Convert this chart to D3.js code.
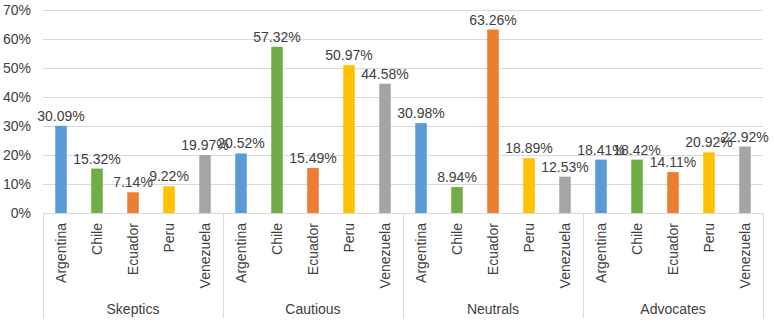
<!DOCTYPE html>
<html>
<head>
<meta charset="utf-8">
<script src="https://cdn.jsdelivr.net/npm/d3@7"></script>
<style>
  body { margin: 0; background: #fff; }
  text { font-family: "Liberation Sans", Arial, sans-serif; fill: #404040; }
</style>
</head>
<body>
<div id="chart"></div>
<script>
// data
const groups = ["Skeptics", "Cautious", "Neutrals", "Advocates"];
const countries = ["Argentina", "Chile", "Ecuador", "Peru", "Venezuela"];
const skeptics = [30.09, 15.32, 7.14, 9.22, 19.97];
const cautious = [20.52, 57.32, 15.49, 50.97, 44.58];
const neutrals = [30.98, 8.94, 63.26, 18.89, 12.53];
const advocates = [18.41, 18.42, 14.11, 20.92, 22.92];
const yTicks = [0, 10, 20, 30, 40, 50, 60, 70];

const colors = ["#5b9bd5", "#70ad47", "#ed7d31", "#ffc000", "#a5a5a5"];

const seriesByGroup = [skeptics, cautious, neutrals, advocates];
const rows = [];
groups.forEach((g, gi) => {
  countries.forEach((c, ci) => {
    rows.push({group: g, country: c, key: g + "|" + c, value: seriesByGroup[gi][ci], ci: ci});
  });
});

const W = 774, H = 322;
const margin = {top: 10, right: 11, bottom: 109, left: 43};
const width = W - margin.left - margin.right,
      height = H - margin.top - margin.bottom;

const svg = d3.select("#chart").append("svg")
    .attr("width", W).attr("height", H)
  .append("g")
    .attr("transform", `translate(${margin.left},${margin.top})`);

const x = d3.scaleBand()
  .domain(rows.map(d => d.key))
  .range([0, width])
  .paddingInner(0.68).paddingOuter(0.34);

const xGroup = d3.scaleBand()
  .domain(groups)
  .range([0, width]);

const y = d3.scaleLinear().domain([0, 70]).range([height, 0]);

// gridlines
svg.append("g").selectAll("line")
  .data(yTicks)
  .join("line")
    .attr("x1", 0).attr("x2", width)
    .attr("y1", d => Math.round(y(d)) + 0.5).attr("y2", d => Math.round(y(d)) + 0.5)
    .attr("stroke", "#d9d9d9").attr("stroke-width", 1);

// y axis labels
svg.append("g").selectAll("text")
  .data(yTicks)
  .join("text")
    .attr("x", -12).attr("y", d => y(d))
    .attr("dy", "0.35em")
    .attr("text-anchor", "end")
    .style("font-size", "14px")
    .text(d => d + "%");

// bars
svg.append("g").selectAll("rect")
  .data(rows)
  .join("rect")
    .attr("x", d => x(d.key))
    .attr("y", d => y(d.value))
    .attr("width", x.bandwidth())
    .attr("height", d => height - y(d.value))
    .attr("fill", d => colors[d.ci]);

// value labels
svg.append("g").selectAll("text")
  .data(rows)
  .join("text")
    .attr("x", d => x(d.key) + x.bandwidth() / 2)
    .attr("y", d => y(d.value) - 5)
    .attr("text-anchor", "middle")
    .style("font-size", "14px")
    .text(d => d.value.toFixed(2) + "%");

// category separators
const seps = groups.map(g => xGroup(g)).concat([width]);
svg.append("g").selectAll("line")
  .data(seps)
  .join("line")
    .attr("x1", d => Math.round(d) + 0.5).attr("x2", d => Math.round(d) + 0.5)
    .attr("y1", height).attr("y2", height + 105)
    .attr("stroke", "#d9d9d9");

// country labels
svg.append("g").selectAll("text")
  .data(rows)
  .join("text")
    .attr("transform", d => `translate(${x(d.key) + x.bandwidth() / 2 + 5},${height + 10}) rotate(-90)`)
    .attr("text-anchor", "end")
    .style("font-size", "14px")
    .text(d => d.country);

// group labels
svg.append("g").selectAll("text")
  .data(groups)
  .join("text")
    .attr("x", d => xGroup(d) + xGroup.bandwidth() / 2)
    .attr("y", height + 101)
    .attr("text-anchor", "middle")
    .style("font-size", "14px")
    .text(d => d);
</script>
</body>
</html>
